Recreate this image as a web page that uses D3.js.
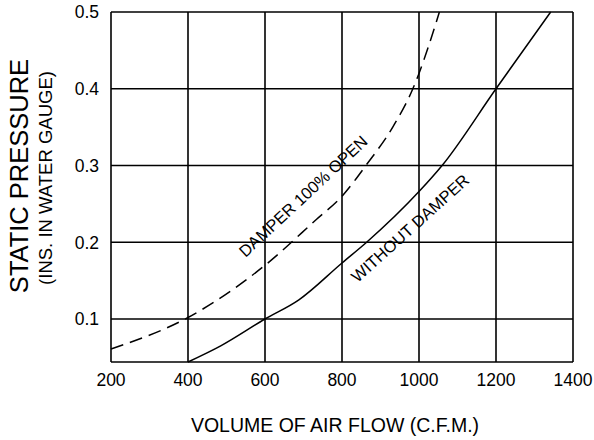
<!DOCTYPE html>
<html>
<head>
<meta charset="utf-8">
<script src="https://cdn.jsdelivr.net/npm/d3@7"></script>
<style>
  body { margin: 0; background: #fff; }
  text { font-family: "Liberation Sans", Arial, sans-serif; fill: #000; }
</style>
</head>
<body>
<div id="wrapper"></div>
<script>
// data
const flowTicks = [200, 400, 600, 800, 1000, 1200, 1400]
const pressureTicks = [0.1, 0.2, 0.3, 0.4, 0.5]

const damperFlow = [200, 400, 600, 734, 800, 862, 933, 984, 1000, 1053]
const damperPressure = [0.061, 0.102, 0.17, 0.23, 0.26, 0.3, 0.351, 0.4, 0.42, 0.5]

const withoutFlow = [400, 485, 600, 688, 800, 864, 1000, 1060, 1200, 1342]
const withoutPressure = [0.044, 0.065, 0.1, 0.125, 0.173, 0.2, 0.266, 0.3, 0.4, 0.5]

const dimensions = {
  width: 594,
  height: 440,
  margin: { top: 12, right: 21, bottom: 78, left: 111 },
}
dimensions.boundedWidth = dimensions.width - dimensions.margin.left - dimensions.margin.right
dimensions.boundedHeight = dimensions.height - dimensions.margin.top - dimensions.margin.bottom

const wrapper = d3.select("#wrapper")
  .append("svg")
  .attr("width", dimensions.width)
  .attr("height", dimensions.height)

const bounds = wrapper.append("g")
  .attr("transform", `translate(${dimensions.margin.left},${dimensions.margin.top})`)

const xScale = d3.scaleLinear()
  .domain([200, 1400])
  .range([0, dimensions.boundedWidth])

const yScale = d3.scaleLinear()
  .domain([0.044, 0.5])
  .range([dimensions.boundedHeight, 0])

// grid
bounds.append("g")
  .selectAll("line")
  .data(flowTicks)
  .join("line")
  .attr("x1", d => xScale(d))
  .attr("x2", d => xScale(d))
  .attr("y1", 0)
  .attr("y2", dimensions.boundedHeight)
  .attr("stroke", "#000")
  .attr("stroke-width", 1.6)

bounds.append("g")
  .selectAll("line")
  .data(pressureTicks)
  .join("line")
  .attr("x1", 0)
  .attr("x2", dimensions.boundedWidth)
  .attr("y1", d => yScale(d))
  .attr("y2", d => yScale(d))
  .attr("stroke", "#000")
  .attr("stroke-width", 1.6)

bounds.append("line")
  .attr("x1", 0)
  .attr("x2", dimensions.boundedWidth)
  .attr("y1", dimensions.boundedHeight)
  .attr("y2", dimensions.boundedHeight)
  .attr("stroke", "#000")
  .attr("stroke-width", 1.6)

// tick labels
bounds.append("g")
  .selectAll("text")
  .data(flowTicks)
  .join("text")
  .attr("x", d => xScale(d))
  .attr("y", dimensions.boundedHeight + 24)
  .attr("text-anchor", "middle")
  .style("font-size", "17.5px")
  .text(d => d)

bounds.append("g")
  .selectAll("text")
  .data(pressureTicks)
  .join("text")
  .attr("x", -12)
  .attr("y", d => yScale(d))
  .attr("dy", "0.36em")
  .attr("text-anchor", "end")
  .style("font-size", "17.5px")
  .text(d3.format(".1f"))

// curves
const line = d3.line()
  .x(d => xScale(d[0]))
  .y(d => yScale(d[1]))
  .curve(d3.curveMonotoneX)

bounds.append("path")
  .datum(d3.zip(damperFlow, damperPressure))
  .attr("d", line)
  .attr("fill", "none")
  .attr("stroke", "#000")
  .attr("stroke-width", 1.5)
  .attr("stroke-dasharray", "13,7")

bounds.append("path")
  .datum(d3.zip(withoutFlow, withoutPressure))
  .attr("d", line)
  .attr("fill", "none")
  .attr("stroke", "#000")
  .attr("stroke-width", 1.5)

// curve labels
wrapper.append("text")
  .attr("transform", "translate(303,196) rotate(-43)")
  .attr("text-anchor", "middle")
  .attr("dominant-baseline", "central")
  .style("font-size", "16.5px")
  .text("DAMPER 100% OPEN")

wrapper.append("text")
  .attr("transform", "translate(410,228) rotate(-42)")
  .attr("text-anchor", "middle")
  .attr("dominant-baseline", "central")
  .style("font-size", "16.5px")
  .text("WITHOUT DAMPER")

// axis titles
wrapper.append("text")
  .attr("x", 335)
  .attr("y", 432)
  .attr("text-anchor", "middle")
  .style("font-size", "19.5px")
  .text("VOLUME OF AIR FLOW (C.F.M.)")

wrapper.append("text")
  .attr("transform", "translate(28,176) rotate(-90)")
  .attr("text-anchor", "middle")
  .style("font-size", "25.5px")
  .text("STATIC PRESSURE")

wrapper.append("text")
  .attr("transform", "translate(52,178) rotate(-90)")
  .attr("text-anchor", "middle")
  .style("font-size", "18.5px")
  .text("(INS. IN WATER GAUGE)")
</script>
</body>
</html>
